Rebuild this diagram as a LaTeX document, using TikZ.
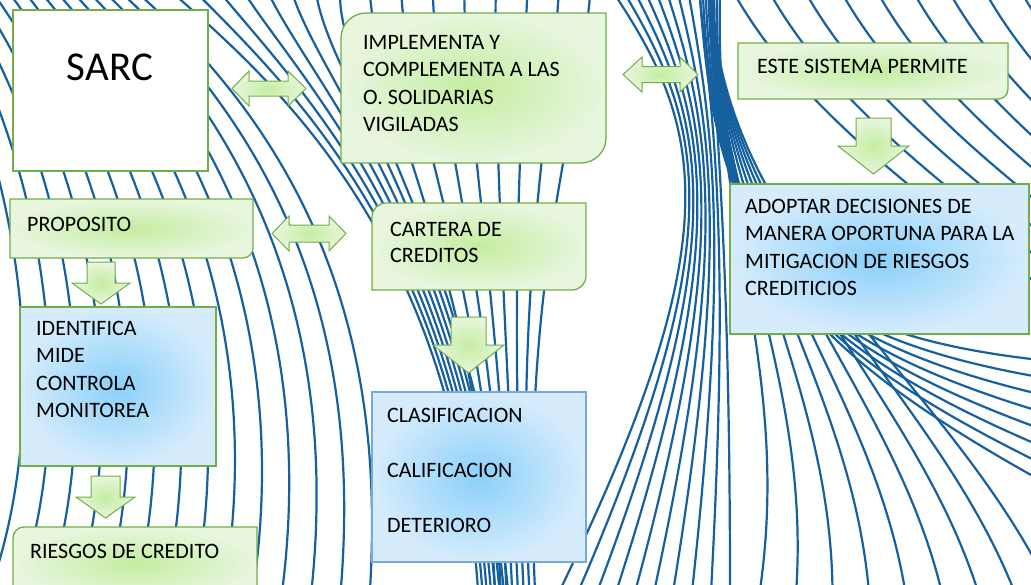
\documentclass[tikz,border=0pt]{standalone}
\usepackage{fontspec}
\setmainfont{Carlito}
\definecolor{waveblue}{RGB}{22,96,160}
\definecolor{gborder}{RGB}{113,174,72}
\definecolor{gin}{RGB}{196,237,160}
\definecolor{gout}{RGB}{232,246,222}
\definecolor{bin}{RGB}{138,208,250}
\definecolor{bout}{RGB}{214,236,252}
\definecolor{bborder}{RGB}{118,170,222}
\tikzset{
  wave/.style={waveblue,line width=2.2pt},
  greenbox/.style={draw=gborder,line width=1.3pt,inner color=gin,outer color=gout},
  bluebox/.style={draw=gborder,line width=1.3pt,inner color=bin,outer color=bout},
  arrowfill/.style={draw=gborder,line width=1pt,inner color=gin,outer color=gout},
  txt/.style={font=\fontsize{22}{27.5}\selectfont,inner sep=0pt,anchor=north west,align=left}
}
% block arrows: centre x, top y, tip y, shaft half, head half, head start y
\newcommand{\vblock}[6]{%
  \draw[arrowfill] ({#1-#4},#2) -- ({#1+#4},#2) -- ({#1+#4},#6) -- ({#1+#5},#6)
    -- (#1,#3) -- ({#1-#5},#6) -- ({#1-#4},#6) -- cycle;}
% left tip x, right tip x, centre y, shaft half, head half, left head, right head
\newcommand{\hblock}[7]{%
  \draw[arrowfill] (#1,#3) -- ({#1+#6},{#3-#5}) -- ({#1+#6},{#3-#4}) -- ({#2-#7},{#3-#4})
    -- ({#2-#7},{#3-#5}) -- (#2,#3) -- ({#2-#7},{#3+#5}) -- ({#2-#7},{#3+#4})
    -- ({#1+#6},{#3+#4}) -- ({#1+#6},{#3+#5}) -- cycle;}
\begin{document}
\begin{tikzpicture}[x=1pt,y=-1pt]
  \useasboundingbox (0,0) rectangle (1031,584);
  \fill[white] (0,0) rectangle (1031,584);
  % background lines
  \begin{scope}
    \clip (0,0) rectangle (1031,584);
    % left arcs
    \foreach \k in {0,...,13}{
      \pgfmathsetmacro\t{\k/13}
      \draw[wave] ({-70+210*\t},-5) .. controls ({30+330*\t},190) and ({50+330*\t},420) .. ({-10+380*\t},590);
    }
    % top left, into the middle
    \foreach \k in {0,...,7}{
      \pgfmathsetmacro\t{\k/7}
      \draw[wave] ({175+165*\t},-5) .. controls ({285+55*\t},90) and ({455+20*\t},250) .. ({478+30*\t},590);
    }
    % top middle
    \foreach \k in {0,...,7}{
      \pgfmathsetmacro\t{\k/7}
      \draw[wave] ({370+220*\t},-5) .. controls ({380+200*\t},120) and ({480+40*\t},280) .. ({495+40*\t},590);
    }
    % bundle near the right boxes, down to the bottom
    \foreach \k in {0,...,9}{
      \pgfmathsetmacro\t{\k/9}
      \draw[wave] ({615+95*\t},-5) .. controls ({705+10*\t},130) and ({730},240) .. ({560+170*\t},590);
    }
    % under the right box, to the right edge
    \foreach \k in {0,...,7}{
      \pgfmathsetmacro\t{\k/7}
      \draw[wave] ({700+20*\t},-5) .. controls (715,230) and (770,330) .. (1040,{360+120*\t});
    }
    % under the right box, to the bottom
    \foreach \k in {0,...,8}{
      \pgfmathsetmacro\t{\k/8}
      \draw[wave] (712,-5) .. controls (720,240) and ({790+160*\t},380) .. ({760+290*\t},590);
    }
    % top right diagonals
    \foreach \k in {0,...,11}{
      \draw[wave] ({735+36*\k},-5) .. controls ({790+36*\k},90) and ({880+36*\k},170) .. ({1060+36*\k},300);
    }
  \end{scope}
  % boxes
  \draw[draw=gborder,line width=1.3pt,fill=white] (13,10) rectangle (208,171);
  \draw[greenbox] (341,38) arc[start angle=180,end angle=270,radius=25] -- (606,13) -- (606,138)
    arc[start angle=0,end angle=90,radius=25] -- (341,163) -- cycle;
  \draw[greenbox] (738,43) -- (1008,43) -- (1008,89) arc[start angle=0,end angle=90,radius=10] -- (738,99) -- cycle;
  \draw[bluebox] (730,184) rectangle (1029,334);
  \draw[greenbox] (10,199) -- (253,199) -- (253,248) arc[start angle=0,end angle=90,radius=10] -- (10,258) -- cycle;
  \draw[bluebox] (20,307) rectangle (216,466);
  \draw[greenbox] (13,600) -- (13,538) arc[start angle=180,end angle=270,radius=11] -- (257,527) -- (257,600);
  \draw[greenbox] (372,217) arc[start angle=180,end angle=270,radius=14] -- (586,203) -- (586,276)
    arc[start angle=0,end angle=90,radius=14] -- (372,290) -- cycle;
  \draw[bluebox,draw=bborder] (372,392) rectangle (586,562);
  % arrows
  \hblock{232}{306}{88.5}{7.5}{17.5}{17}{18}
  \hblock{623}{698}{74.5}{8}{17.5}{19}{18}
  \hblock{272}{346}{233.5}{8.5}{17.5}{17}{17}
  \vblock{873.5}{118}{174}{17.5}{35.5}{146}
  \vblock{101}{262}{304}{14}{29}{283}
  \vblock{105.5}{476}{518}{14.5}{29.5}{497}
  \vblock{468.5}{317}{373}{17.5}{35.5}{345}
  % texts
  \node[font=\fontsize{41}{45}\selectfont,inner sep=0pt,anchor=north] (sarc) at (110,54) {SARC};
  \node[txt] (impl) at (363,35) {IMPLEMENTA Y\\COMPLEMENTA A LAS\\O. SOLIDARIAS\\VIGILADAS};
  \node[txt] (sistema) at (757,59) {ESTE SISTEMA PERMITE};
  \node[txt] (adoptar) at (745,199) {ADOPTAR DECISIONES DE\\MANERA OPORTUNA PARA LA\\MITIGACION DE RIESGOS\\CREDITICIOS};
  \node[txt] (proposito) at (27,217) {PROPOSITO};
  \node[txt] (identifica) at (36,321) {IDENTIFICA\\MIDE\\CONTROLA\\MONITOREA};
  \node[txt] (riesgos) at (30,544) {RIESGOS DE CREDITO};
  \node[txt,font=\fontsize{22}{26}\selectfont] (cartera) at (390,222) {CARTERA DE\\CREDITOS};
  \node[txt,font=\fontsize{22}{55}\selectfont] (clasif) at (387,408) {CLASIFICACION\\CALIFICACION\\DETERIORO};
\end{tikzpicture}
\end{document}
